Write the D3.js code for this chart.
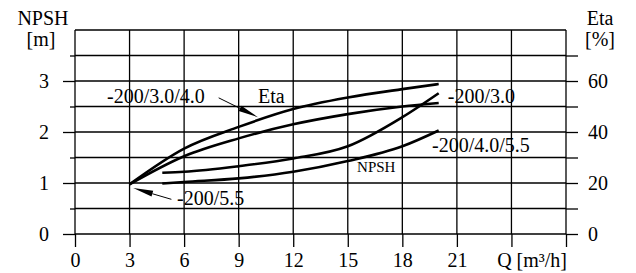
<!DOCTYPE html>
<html>
<head>
<meta charset="utf-8">
<script src="https://cdn.jsdelivr.net/npm/d3@7"></script>
<style>
  body { margin: 0; background: #fff; }
  svg text { font-family: "Liberation Serif", "Times New Roman", "DejaVu Serif", serif; fill: #000; }
</style>
</head>
<body>
<script>
// flow axis (m3/h)
var qTicks   = [0, 3, 6, 9, 12, 15, 18, 21, 24, 27];
var qLabels  = [0, 3, 6, 9, 12, 15, 18, 21];
// NPSH axis (m) on the left, Eta axis (%) on the right
var npshTicks  = [0, 0.5, 1, 1.5, 2, 2.5, 3, 3.5, 4];
var npshLabels = [0, 1, 2, 3];
var etaTicks   = [0, 10, 20, 30, 40, 50, 60, 70, 80];
var etaLabels  = [0, 20, 40, 60];

// efficiency curves
var etaQ     = [3, 6, 9, 12, 15, 18, 20];
var etaUpper = [19.5, 33.5, 42, 49, 53.5, 56.8, 58.8];
var etaLower = [19.5, 30.5, 37.5, 43, 47, 50, 51.4];

// NPSH curves
var npshQ     = [4.8, 6, 9, 12, 15, 18, 20];
var npshUpper = [1.2, 1.22, 1.33, 1.48, 1.72, 2.29, 2.76];
var npshLower = [0.99, 1.02, 1.09, 1.22, 1.43, 1.72, 2.03];

var width  = 636;
var height = 273;
var plotLeft = 75, plotRight = 566, plotTop = 30, plotBottom = 234;

var svg = d3.select("body").append("svg")
            .attr("width", width)
            .attr("height", height);

svg.append("rect").attr("width", width).attr("height", height).style("fill", "white");

var x    = d3.scaleLinear().domain([0, 27]).range([plotLeft, plotRight]);
var y    = d3.scaleLinear().domain([0, 4]).range([plotBottom, plotTop]);
var yEta = d3.scaleLinear().domain([0, 80]).range([plotBottom, plotTop]);

var fs = 20;
var serif = "'Liberation Serif', 'Times New Roman', 'DejaVu Serif', serif";

// grid
var grid = svg.append("g").attr("stroke", "#000").attr("stroke-width", 1.3);
grid.selectAll(".v").data(qTicks).enter().append("line")
    .attr("x1", d => x(d)).attr("x2", d => x(d))
    .attr("y1", plotTop).attr("y2", plotBottom);
grid.selectAll(".h").data(npshTicks).enter().append("line")
    .attr("x1", plotLeft).attr("x2", plotRight)
    .attr("y1", d => y(d)).attr("y2", d => y(d));

// axes (ticks poke outside the grid)
var bottomAxis = svg.append("g")
    .attr("transform", "translate(0," + plotBottom + ")")
    .call(d3.axisBottom(x).tickValues(qTicks).tickSize(13).tickPadding(6)
            .tickFormat(d => qLabels.indexOf(d) >= 0 ? d : ""));

var leftAxis = svg.append("g")
    .attr("transform", "translate(" + plotLeft + ",0)")
    .call(d3.axisLeft(y).tickValues(npshTicks).tickSize(12).tickPadding(14)
            .tickFormat(d => npshLabels.indexOf(d) >= 0 ? d : ""));
leftAxis.selectAll(".tick line")
    .attr("x2", d => d === 4 ? 0 : (d % 1 === 0 ? -12 : -5));

var rightAxis = svg.append("g")
    .attr("transform", "translate(" + plotRight + ",0)")
    .call(d3.axisRight(yEta).tickValues(etaTicks).tickSize(12).tickPadding(10)
            .tickFormat(d => etaLabels.indexOf(d) >= 0 ? d : ""));
rightAxis.selectAll(".tick line").attr("x2", d => d === 80 ? 0 : 12);

[bottomAxis, leftAxis, rightAxis].forEach(function(a) {
  a.attr("font-family", null);
  a.select(".domain").remove();
  a.selectAll(".tick line").attr("stroke", "#000").attr("stroke-width", 1.3);
  a.selectAll("text").style("font-family", serif).style("font-size", fs + "px").attr("fill", "#000");
});

// axis titles
function title(tx, ty, s, anchor) {
  svg.append("text").attr("x", tx).attr("y", ty).attr("text-anchor", anchor || "middle")
     .style("font-family", serif).style("font-size", fs + "px").text(s);
}
title(43, 25, "NPSH");
title(41, 46, "[m]");
title(600, 25, "Eta");
title(600, 46, "[%]");
title(567, 267, "Q [m³/h]", "end");

// curves
var etaLine  = d3.line().x(d => x(d[0])).y(d => yEta(d[1])).curve(d3.curveMonotoneX);
var npshLine = d3.line().x(d => x(d[0])).y(d => y(d[1])).curve(d3.curveMonotoneX);

var curves = svg.append("g").attr("fill", "none").attr("stroke", "#000").attr("stroke-width", 2.6);
curves.append("path").attr("d", etaLine(d3.zip(etaQ, etaUpper)));
curves.append("path").attr("d", etaLine(d3.zip(etaQ, etaLower)));
curves.append("path").attr("d", npshLine(d3.zip(npshQ, npshUpper)));
curves.append("path").attr("d", npshLine(d3.zip(npshQ, npshLower)));

// labels, placed in chart units (q, NPSH)
var labels = [
  { t: "-200/3.0/4.0", q: 1.76,  v: 2.57 },
  { t: "Eta",          q: 10.06, v: 2.57 },
  { t: "-200/3.0",     q: 20.5,  v: 2.57 },
  { t: "-200/4.0/5.5", q: 19.63, v: 1.61 },
  { t: "-200/5.5",     q: 5.61,  v: 0.57 }
];
svg.selectAll(".lbl").data(labels).enter().append("text")
    .attr("x", d => x(d.q)).attr("y", d => y(d.v))
    .style("font-family", serif).style("font-size", fs + "px").text(d => d.t);

svg.append("text").attr("x", x(15.51)).attr("y", y(1.22))
    .style("font-family", serif).style("font-size", "15px").text("NPSH");

// leader arrows
var arrows = [
  { q0: 7.9, v0: 2.67, q1: 10.06, v1: 2.29 },
  { q0: 5.3, v0: 0.68, q1: 3.2,   v1: 0.9 }
];
arrows.forEach(function(a) {
  var x0 = x(a.q0), y0 = y(a.v0), x1 = x(a.q1), y1 = y(a.v1);
  var dx = x1 - x0, dy = y1 - y0, len = Math.sqrt(dx * dx + dy * dy);
  var ux = dx / len, uy = dy / len, hl = 20, hw = 3;
  var bx = x1 - ux * hl, by = y1 - uy * hl;
  svg.append("line").attr("x1", x0).attr("y1", y0).attr("x2", bx).attr("y2", by)
     .attr("stroke", "#000").attr("stroke-width", 1);
  svg.append("path")
     .attr("d", "M" + x1 + "," + y1 + "L" + (bx - uy * hw) + "," + (by + ux * hw) +
                "L" + (bx + uy * hw) + "," + (by - ux * hw) + "Z")
     .attr("fill", "#000");
});
</script>
</body>
</html>
